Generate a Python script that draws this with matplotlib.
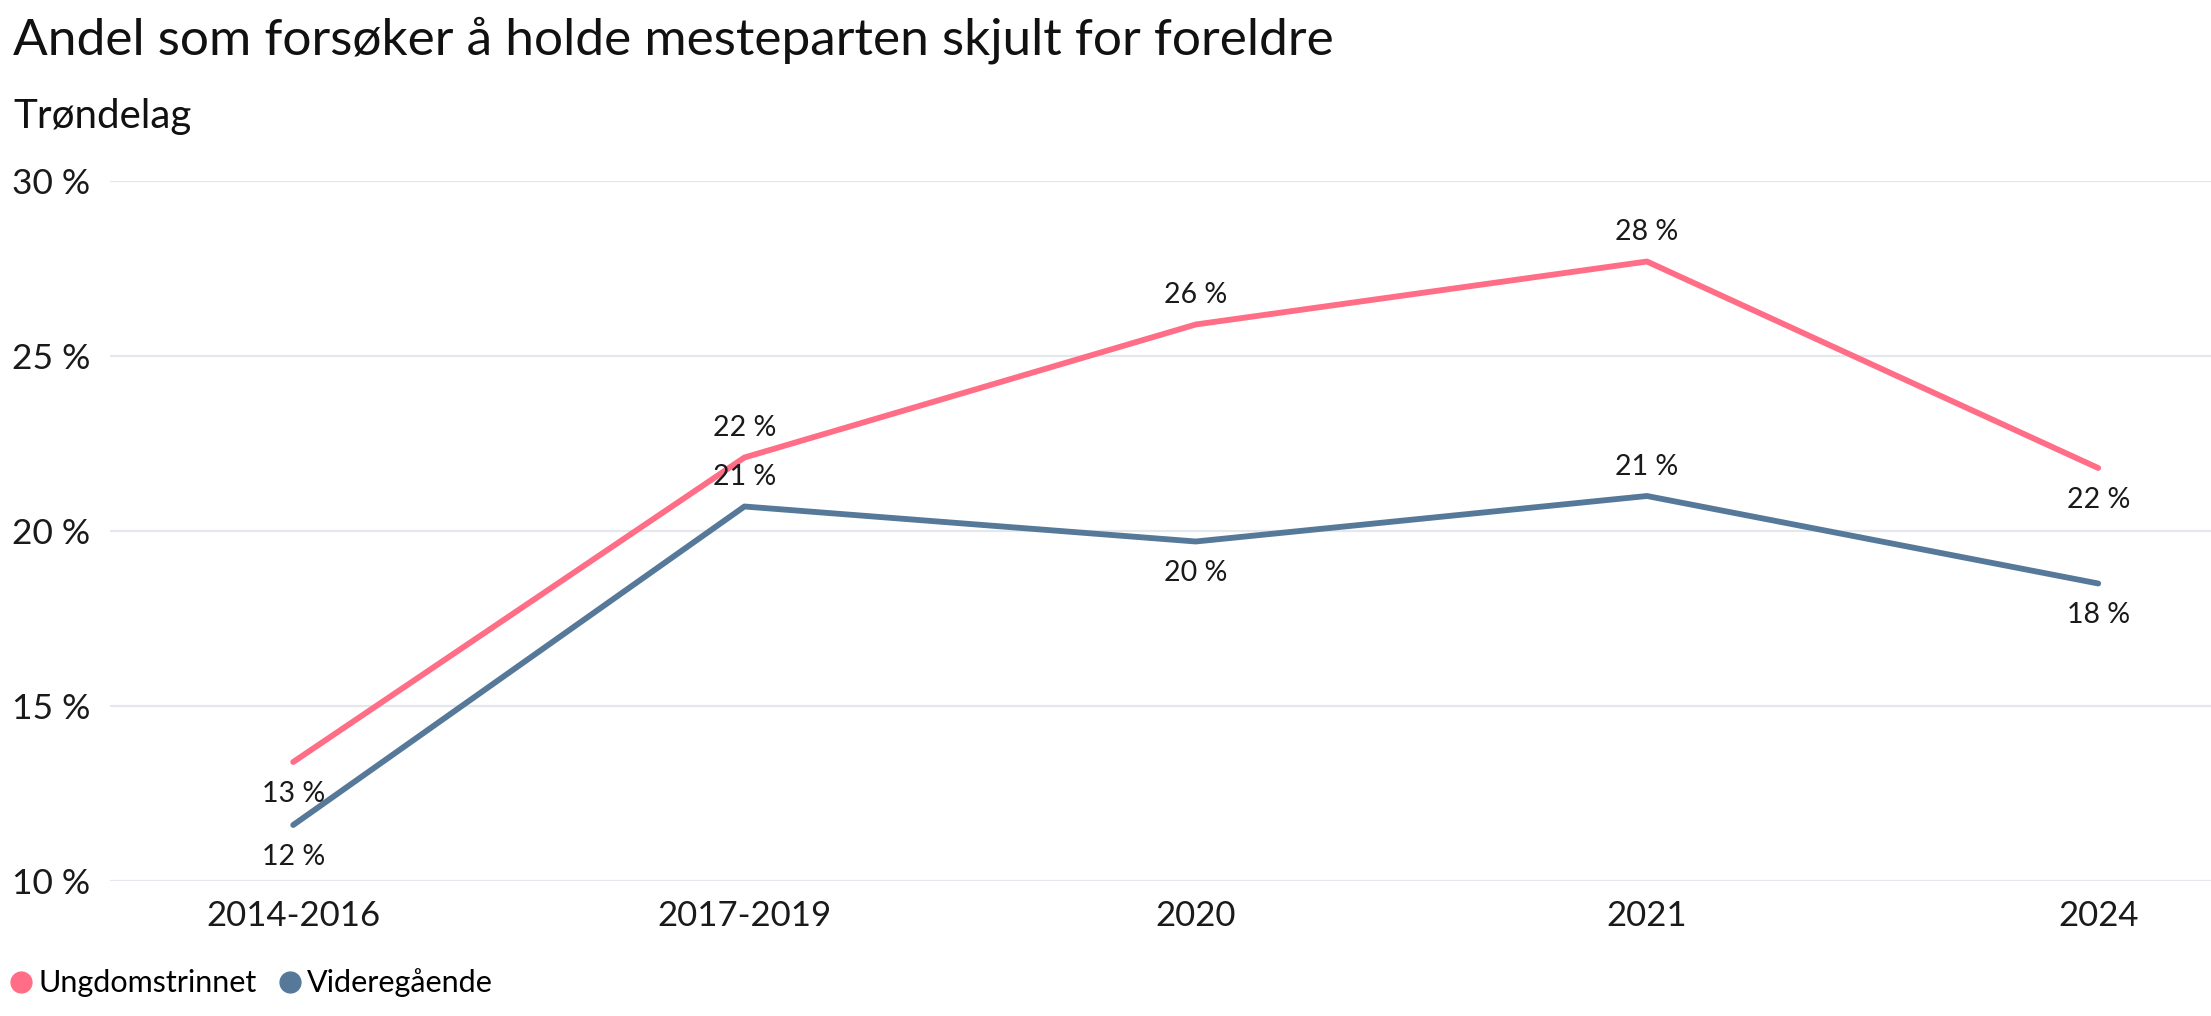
import matplotlib
matplotlib.use("Agg")
import matplotlib.pyplot as plt
from matplotlib.lines import Line2D

plt.rcParams['font.family'] = ['Lato', 'DejaVu Sans']

categories = ["2014-2016", "2017-2019", "2020", "2021", "2024"]
ungdom = [13.4, 22.1, 25.9, 27.7, 21.8]
vgs = [11.6, 20.7, 19.7, 21.0, 18.5]
ungdom_labels = ["13 %", "22 %", "26 %", "28 %", "22 %"]
vgs_labels = ["12 %", "21 %", "20 %", "21 %", "18 %"]
ungdom_pos = ["below", "above", "above", "above", "below"]
vgs_pos = ["below", "above", "below", "above", "below"]
yticks = [10, 15, 20, 25, 30]
ytick_labels = ["10 %", "15 %", "20 %", "25 %", "30 %"]
series_names = ["Ungdomstrinnet", "Videregående"]

PINK = "#FF6E86"
BLUE = "#56799A"

W, H = 2211, 1016
fig = plt.figure(figsize=(W/100, H/100), dpi=100)
left = 110 / W
bottom = 1 - 881 / H
top = 1 - 181 / H
ax = fig.add_axes([left, bottom, 1 - left, top - bottom])

x = list(range(len(categories)))
ax.plot(x, ungdom, color=PINK, lw=4.2, solid_capstyle='round', zorder=3)
ax.plot(x, vgs, color=BLUE, lw=4.2, solid_capstyle='round', zorder=3)

for vals, labs, poss in [(ungdom, ungdom_labels, ungdom_pos), (vgs, vgs_labels, vgs_pos)]:
    for xi, v, lab, p in zip(x, vals, labs, poss):
        dy = 21 if p == "above" else -23
        ax.annotate(lab, (xi, v), xytext=(0, dy), textcoords='offset points',
                    ha='center', va='center', fontsize=20.5, color='#1a1a1a', zorder=4)

ax.set_xlim(-0.406, 4.25)
ax.set_ylim(10, 30)
ax.set_yticks(yticks)
ax.set_yticklabels(ytick_labels)
ax.set_xticks(x)
ax.set_xticklabels(categories)
ax.tick_params(axis='y', length=0, pad=14, labelsize=25.5, labelcolor='#1a1a1a')
ax.tick_params(axis='x', length=0, pad=14, labelsize=25, labelcolor='#1a1a1a')
ax.grid(axis='y', color='#e4e8ec', lw=1.6, zorder=0)
for s in ax.spines.values():
    s.set_visible(False)

fig.text(13 / W, 1 - 55 / H, "Andel som forsøker å holde mesteparten skjult for foreldre",
         fontsize=37, va='baseline', ha='left', color='#111111')
fig.text(13 / W, 1 - 128 / H, "Trøndelag", fontsize=29, va='baseline', ha='left', color='#111111')

handles = [Line2D([], [], marker='o', linestyle='none', markersize=15, color=c)
           for c in (PINK, BLUE)]
fig.legend(handles, series_names, loc='center left', bbox_to_anchor=(0.0, 1 - 983 / H),
           frameon=False, fontsize=22, handletextpad=0.05, columnspacing=0.6,
           ncol=2, borderaxespad=0, borderpad=0.2, handlelength=1.0)

fig.savefig("out.png", dpi=100)
